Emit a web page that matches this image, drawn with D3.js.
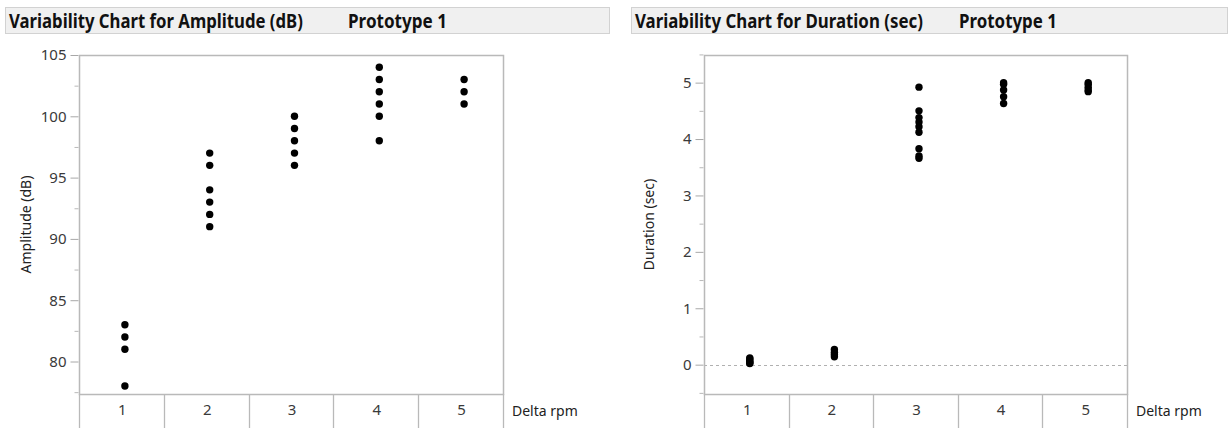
<!DOCTYPE html>
<html>
<head>
<meta charset="utf-8">
<script src="https://cdn.jsdelivr.net/npm/d3@7"></script>
<style>
  body { margin: 0; background: #fff; }
  svg { display: block; font-family: "Noto Sans", "Open Sans", sans-serif; }
</style>
</head>
<body>
<div id="chart"></div>
<script>
var categories = ["1", "2", "3", "4", "5"];

// Amplitude (dB) readings per Delta rpm level
var amplitude_values = [
    [83, 82, 81, 78],
    [97, 96, 94, 93, 92, 91],
    [100, 99, 98, 97, 96],
    [104, 103, 102, 101, 100, 98],
    [103, 102, 101]
];

// Duration (sec) readings per Delta rpm level
var duration_values = [
    [0.12, 0.1, 0.07, 0.05, 0.03, 0.02],
    [0.27, 0.22, 0.18, 0.14],
    [4.92, 4.5, 4.38, 4.3, 4.22, 4.12, 3.83, 3.7, 3.66],
    [5.0, 4.97, 4.87, 4.75, 4.63],
    [5.0, 4.97, 4.92, 4.87, 4.84]
];

var amplitude_ticks = [80, 85, 90, 95, 100, 105];
var amplitude_minor = [77.5, 82.5, 87.5, 92.5, 97.5, 102.5];
var duration_ticks = [0, 1, 2, 3, 4, 5];
var duration_minor = [-0.5, 0.5, 1.5, 2.5, 3.5, 4.5, 5.5];

var W = 1231, H = 428;
var svg = d3.select("#chart").append("svg")
    .attr("width", W)
    .attr("height", H);

var panels = [
    {
        left: 5, barRight: 609, plotLeft: 79, plotRight: 503,
        title: "Variability Chart for Amplitude (dB)", titleW: 294,
        proto: 348, protoW: 99,
        ylabel: "Amplitude (dB)", ylabelX: 26,
        values: amplitude_values, domain: [77.35, 105],
        ticks: amplitude_ticks, minor: amplitude_minor, zeroLine: false
    },
    {
        left: 631, barRight: 1227, plotLeft: 704, plotRight: 1127,
        title: "Variability Chart for Duration (sec)", titleW: 288,
        proto: 959, protoW: 98,
        ylabel: "Duration (sec)", ylabelX: 649,
        values: duration_values, domain: [-0.52, 5.49],
        ticks: duration_ticks, minor: duration_minor, zeroLine: true
    }
];

var plotTop = 55, plotBottom = 394;
var frameColor = "#b9b9b9";

// squeeze a text horizontally so it spans the given width (the original font is narrow)
function fitText(sel, x, y, w) {
    var natural = sel.node().getComputedTextLength();
    sel.attr("transform", "translate(" + x + "," + y + ") scale(" + (w / natural) + ",1)");
}

panels.forEach(function (p) {
    var g = svg.append("g");

    // title bar
    g.append("rect")
        .attr("x", p.left + 0.5).attr("y", 7.5)
        .attr("width", p.barRight - p.left).attr("height", 26)
        .attr("fill", "#f0f0f0")
        .attr("stroke", "#d2d2d2");
    var t1 = g.append("text")
        .attr("font-size", "20px").attr("font-weight", "bold")
        .attr("fill", "#111")
        .text(p.title);
    fitText(t1, p.left + 4, 27.5, p.titleW);
    var t2 = g.append("text")
        .attr("font-size", "19px").attr("font-weight", "bold")
        .attr("fill", "#111")
        .text("Prototype 1");
    fitText(t2, p.proto, 27.5, p.protoW);

    var x = d3.scaleBand()
        .domain(categories)
        .range([p.plotLeft, p.plotRight]);
    var y = d3.scaleLinear()
        .domain(p.domain)
        .range([plotBottom, plotTop]);

    // y axis major ticks
    var yAxis = g.append("g")
        .attr("transform", "translate(" + (p.plotLeft - 0.5) + ",0)")
        .call(d3.axisLeft(y).tickValues(p.ticks).tickSize(8).tickPadding(4).tickFormat(d3.format("d")));
    yAxis.select(".domain").remove();
    yAxis.selectAll(".tick line").attr("stroke", "#a8a8a8");
    yAxis.selectAll(".tick text")
        .attr("font-size", "15px")
        .attr("fill", "#3a3a3a")
        .attr("font-family", "\"Noto Sans\", sans-serif");

    // y axis minor ticks
    var yMinor = g.append("g")
        .attr("transform", "translate(" + (p.plotLeft - 0.5) + ",0)")
        .call(d3.axisLeft(y).tickValues(p.minor).tickSize(4).tickFormat(""));
    yMinor.select(".domain").remove();
    yMinor.selectAll(".tick line").attr("stroke", "#b8b8b8");

    // zero reference line
    if (p.zeroLine) {
        g.append("line")
            .attr("x1", p.plotLeft).attr("x2", p.plotRight)
            .attr("y1", Math.round(y(0)) + 0.5).attr("y2", Math.round(y(0)) + 0.5)
            .attr("stroke", "#b0b0b0")
            .attr("stroke-dasharray", "3,3");
    }

    // plot frame
    g.append("rect")
        .attr("x", p.plotLeft + 0.5).attr("y", plotTop + 0.5)
        .attr("width", p.plotRight - p.plotLeft).attr("height", plotBottom - plotTop)
        .attr("fill", "none")
        .attr("stroke", frameColor)
        .attr("stroke-width", 1.5);

    // category axis cells
    var bounds = categories.map(function (c) { return x(c); }).concat([p.plotRight]);
    g.selectAll(".cell-line")
        .data(bounds)
        .enter().append("line")
        .attr("x1", function (d) { return Math.round(d) + 0.5; })
        .attr("x2", function (d) { return Math.round(d) + 0.5; })
        .attr("y1", plotBottom).attr("y2", H)
        .attr("stroke", frameColor)
        .attr("stroke-width", 1.3);
    g.selectAll(".cat-label")
        .data(categories)
        .enter().append("text")
        .attr("x", function (d) { return x(d) + x.bandwidth() / 2 + 1; })
        .attr("y", 410)
        .attr("dy", "0.35em")
        .attr("text-anchor", "middle")
        .attr("font-size", "15px")
        .attr("fill", "#3a3a3a")
        .text(function (d) { return d; });
    g.append("text")
        .attr("x", p.plotRight + 9).attr("y", 411)
        .attr("dy", "0.35em")
        .attr("font-size", "14px")
        .attr("fill", "#222")
        .text("Delta rpm");

    // y axis title
    g.append("text")
        .attr("transform", "translate(" + p.ylabelX + "," + ((plotTop + plotBottom) / 2) + ") rotate(-90)")
        .attr("text-anchor", "middle")
        .attr("dy", "0.35em")
        .attr("font-size", "14px")
        .attr("fill", "#222")
        .text(p.ylabel);

    // points
    var pts = [];
    p.values.forEach(function (vals, i) {
        vals.forEach(function (v) { pts.push({ cat: categories[i], value: v }); });
    });
    g.selectAll(".pt")
        .data(pts)
        .enter().append("circle")
        .attr("cx", function (d) { return x(d.cat) + x.bandwidth() / 2 + 3.5; })
        .attr("cy", function (d) { return y(d.value); })
        .attr("r", 3.7)
        .attr("fill", "#000");
});
</script>
</body>
</html>
